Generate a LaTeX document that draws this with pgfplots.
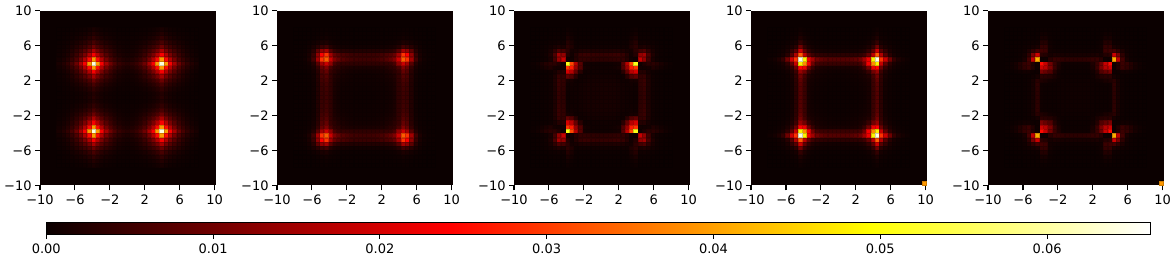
\documentclass[border=0pt]{standalone}
\usepackage{fontspec}
\setmainfont{DejaVu Sans}
\usepackage{pgfplots}
\usepackage{pgfplotstable}
\pgfplotsset{compat=1.18}
% heat values in units of 1e-4; one quadrant, rows are cell offsets in y, columns cell offsets in x
\pgfplotstableread{
d0 d1 d2 d3 d4 d5 d6 d7 d8 d9 d10 d11 d12 d13 d14 d15 d16
2 2 3 4 6 8 12 18 28 18 12 8 6 4 3 2 2
2 2 3 4 5 8 11 16 24 16 11 8 5 4 3 2 1
3 4 4 6 9 13 18 26 38 26 18 13 9 6 4 3 1
4 5 7 10 15 22 30 42 60 42 30 22 15 10 6 4 2
6 7 10 16 24 35 48 65 95 65 48 35 24 15 9 5 3
8 10 14 23 36 52 75 105 155 105 75 52 35 22 13 8 4
12 14 20 30 48 75 110 165 235 165 110 75 48 30 18 11 6
18 21 30 44 67 105 165 250 390 250 165 105 65 42 26 16 9
28 33 44 64 98 155 235 390 640 390 235 155 95 60 38 24 14
18 21 30 44 67 105 165 250 390 250 165 105 65 42 26 16 9
12 14 20 30 48 75 110 165 235 165 110 75 48 30 18 11 6
8 10 14 23 36 52 75 105 155 105 75 52 35 22 13 8 4
6 7 10 16 24 35 48 65 95 65 48 35 24 15 9 5 3
4 5 7 10 15 22 30 42 60 42 30 22 15 10 6 4 2
3 4 4 6 9 13 18 26 38 26 18 13 9 6 4 3 1
2 2 3 4 5 8 11 16 24 16 11 8 5 4 3 2 1
1 1 1 2 3 4 6 9 14 9 6 4 3 2 1 1 1
}\tabA
\pgfplotstableread{
d0 d1 d2 d3 d4 d5 d6 d7 d8 d9 d10 d11 d12 d13 d14 d15 d16
3 3 3 4 5 6 8 14 35 50 45 22 6 2 1 1 0
3 3 3 4 5 6 8 14 35 50 45 22 6 2 1 1 1
3 3 4 4 5 6 9 15 35 52 46 22 6 2 1 1 1
4 4 4 5 6 7 10 16 36 55 48 22 6 2 2 1 1
5 5 5 6 7 9 12 18 38 62 55 24 7 3 2 1 1
6 6 6 7 9 12 16 22 40 72 62 26 8 3 2 1 1
8 8 9 10 12 16 20 30 44 88 72 30 10 4 2 1 1
14 14 15 16 18 22 30 36 60 115 90 40 14 5 3 2 1
35 35 35 36 38 40 44 60 130 190 150 75 25 9 4 2 1
50 50 52 55 62 72 88 115 190 330 290 150 55 18 7 3 2
45 45 46 48 55 62 72 90 150 290 240 130 45 15 6 3 2
22 22 22 22 24 26 30 40 75 150 130 80 28 10 4 2 1
6 6 6 6 7 8 10 14 25 55 45 28 14 6 2 1 1
2 2 2 2 3 3 4 5 9 18 15 10 6 3 1 1 0
1 1 1 1 2 2 2 3 4 8 6 4 2 1 1 0 0
1 1 1 1 1 1 1 2 2 4 3 2 1 1 0 0 0
0 0 0 0 1 1 1 1 1 2 2 1 1 0 0 0 0
}\tabB
\pgfplotstableread{
d0 d1 d2 d3 d4 d5 d6 d7 d8 d9 d10 d11 d12 d13 d14 d15 d16
12 12 12 12 10 8 6 5 4 32 40 18 6 3 2 1 1
12 12 12 12 10 8 6 5 4 32 40 18 6 3 2 1 1
12 12 12 12 10 8 6 6 5 34 42 18 6 3 2 1 1
12 12 12 12 10 8 6 8 6 36 45 20 6 3 2 1 1
10 10 10 10 8 6 5 12 12 38 46 20 6 3 2 1 1
8 8 8 8 6 5 30 70 85 38 42 18 6 3 2 1 1
6 6 6 6 5 30 90 170 200 25 25 12 5 3 2 1 1
5 5 6 8 12 70 140 265 290 8 8 10 20 14 8 4 2
5 5 6 8 10 75 170 310 510 6 20 32 32 25 15 8 4
32 32 34 36 38 38 25 8 5 185 135 55 15 6 3 2 1
40 40 42 45 46 42 25 8 25 135 150 65 20 7 3 2 1
18 18 18 20 20 18 12 10 32 55 65 35 14 5 3 2 1
6 6 6 6 6 6 5 20 32 15 20 14 8 4 2 1 1
3 3 3 3 3 3 3 14 25 6 7 5 4 2 1 1 0
2 2 2 2 2 2 2 8 15 3 3 3 2 1 1 0 0
1 1 1 1 1 1 1 4 8 2 2 2 1 1 0 0 0
1 1 1 1 1 1 1 2 4 1 1 1 1 0 0 0 0
}\tabC
\pgfplotstableread{
d0 d1 d2 d3 d4 d5 d6 d7 d8 d9 d10 d11 d12 d13 d14 d15 d16
2 2 2 2 3 4 6 12 45 72 30 8 4 2 1 1 0
2 2 2 2 3 4 6 12 45 72 30 8 4 2 1 1 1
2 2 2 3 3 5 7 12 45 73 30 9 4 2 1 1 1
2 2 3 3 4 6 8 13 46 76 32 9 4 2 1 1 1
3 3 3 4 5 7 10 15 48 84 34 10 5 2 2 1 1
4 4 5 6 7 10 14 22 56 100 38 14 6 3 2 1 1
6 6 7 8 10 14 22 45 100 140 50 20 9 4 2 1 1
12 12 12 13 15 22 45 100 220 240 95 40 18 8 4 2 1
45 45 45 46 48 56 100 230 380 480 185 85 35 15 8 4 2
72 72 73 76 84 100 150 225 480 640 290 190 100 40 20 10 5
30 30 30 32 34 38 50 90 175 330 165 75 30 12 6 3 2
8 8 9 9 10 14 20 40 85 190 75 40 16 7 4 2 1
4 4 4 4 5 6 9 18 40 100 30 16 9 4 2 1 1
2 2 2 2 2 3 4 8 18 40 12 7 4 2 1 1 0
1 1 1 1 1 2 2 4 9 20 6 4 2 1 1 0 0
1 1 1 1 1 1 1 2 4 10 3 2 1 1 0 0 0
0 0 0 0 1 1 1 1 2 5 2 1 1 0 0 0 0
}\tabD
\pgfplotstableread{
d0 d1 d2 d3 d4 d5 d6 d7 d8 d9 d10 d11 d12 d13 d14 d15 d16
5 5 5 5 4 3 3 3 5 32 12 4 2 1 1 1 0
5 5 5 5 4 3 3 3 5 32 12 4 2 1 1 1 0
5 5 5 5 4 3 3 3 5 33 12 4 2 1 1 1 0
5 5 5 5 4 3 3 4 5 35 12 4 2 1 1 1 0
4 4 4 5 4 6 8 15 20 30 12 4 2 1 1 1 0
3 3 3 3 6 15 25 30 32 12 6 3 2 1 1 1 0
3 3 3 3 8 25 70 90 110 4 4 8 8 5 3 1 1
3 3 3 4 15 45 110 170 190 4 22 45 35 22 10 5 2
5 5 5 5 20 45 100 185 250 5 22 48 40 24 12 6 2
32 32 33 35 40 42 30 6 5 410 180 55 15 5 3 2 1
12 12 12 12 14 16 12 25 30 190 110 35 10 4 2 1 1
4 4 4 4 5 6 8 48 52 55 35 18 6 3 2 1 1
2 2 2 2 2 3 8 40 40 15 10 6 4 2 1 1 0
1 1 1 1 1 2 5 24 24 5 4 3 2 1 1 0 0
1 1 1 1 1 1 3 12 12 3 2 2 1 1 0 0 0
1 1 1 1 1 1 2 6 6 2 1 1 1 0 0 0 0
0 0 0 0 1 1 1 2 2 1 1 1 0 0 0 0 0
}\tabE
\definecolor{hotzero}{rgb}{0.0416,0,0}
\pgfplotsset{
  colormap={mplhot}{rgb(0pt)=(0.0416,0,0); rgb(365pt)=(1,0,0); rgb(746pt)=(1,1,0); rgb(1000pt)=(1,1,1)},
  colormap name=mplhot,
  panel/.style={
    width=176pt, height=174.6pt, scale only axis,
    xmin=-10, xmax=10.15, ymin=-10, ymax=10,
    axis on top, axis line style={draw=none},
    axis background/.style={fill=hotzero},
    point meta min=0, point meta max=662,
    xtick={-10,-6,-2,2,6,10}, ytick={-10,-6,-2,2,6,10},
    xticklabels={−10,−6,−2,2,6,10}, yticklabels={−10,−6,−2,2,6,10},
    xtick pos=left, ytick pos=left,
    tick align=outside, major tick length=4.9pt,
    tick style={black, line width=1.1pt},
    tick label style={font=\fontsize{13}{15}\selectfont},
    xticklabel style={yshift=-0.5pt},
  },
  cell/.style={scatter, only marks, mark=square*, mark size=2.05pt,
    mark options={line width=0.3pt}, point meta=explicit},
}
\newcommand\quadrants[1]{%
  \pgfplotsinvokeforeach{0,...,16}{%
    \addplot[cell] table[x expr={##1*0.4915}, y expr={0.12+\coordindex*0.4878}, meta=d##1] {#1};
    \addplot[cell] table[x expr={-##1*0.4915}, y expr={0.12+\coordindex*0.4878}, meta=d##1] {#1};
    \addplot[cell] table[x expr={##1*0.4915}, y expr={0.12-\coordindex*0.4878}, meta=d##1] {#1};
    \addplot[cell] table[x expr={-##1*0.4915}, y expr={0.12-\coordindex*0.4878}, meta=d##1] {#1};
  }%
}
\begin{document}
\begin{tikzpicture}
\path[use as bounding box] (0,0) rectangle (1174pt,264pt);
\begin{axis}[panel, at={(40pt,78.5pt)}, anchor=south west]
\quadrants{\tabA}
\end{axis}
\begin{axis}[panel, at={(277pt,78.5pt)}, anchor=south west]
\quadrants{\tabB}
\end{axis}
\begin{axis}[panel, at={(514pt,78.5pt)}, anchor=south west]
\quadrants{\tabC}
\end{axis}
\begin{axis}[panel, at={(751pt,78.5pt)}, anchor=south west]
\quadrants{\tabD}
\addplot[cell] coordinates {(9.82,-9.73) [393]};
\end{axis}
\begin{axis}[panel, at={(988pt,78.5pt)}, anchor=south west]
\quadrants{\tabE}
\addplot[cell] coordinates {(9.82,-9.73) [393]};
\end{axis}
\begin{axis}[at={(46.3pt,29.7pt)}, anchor=south west,
    width=1104.2pt, height=12pt, scale only axis,
    xmin=0, xmax=0.0662, ymin=0, ymax=1,
    axis on top, axis line style={black, line width=1.1pt},
    point meta min=0, point meta max=0.0662,
    ytick=\empty, scaled x ticks=false,
    xtick={0,0.01,0.02,0.03,0.04,0.05,0.06},
    xticklabels={0.00,0.01,0.02,0.03,0.04,0.05,0.06},
    xtick pos=left, tick align=outside, major tick length=4.9pt,
    tick style={black, line width=1.1pt},
    tick label style={font=\fontsize{13}{15}\selectfont},
    xticklabel style={yshift=-1.5pt},
]
\addplot[surf, shader=interp, mesh/rows=2, point meta=x]
  coordinates {(0,0) (0.0662,0) (0,1) (0.0662,1)};
\end{axis}
\end{tikzpicture}
\end{document}
